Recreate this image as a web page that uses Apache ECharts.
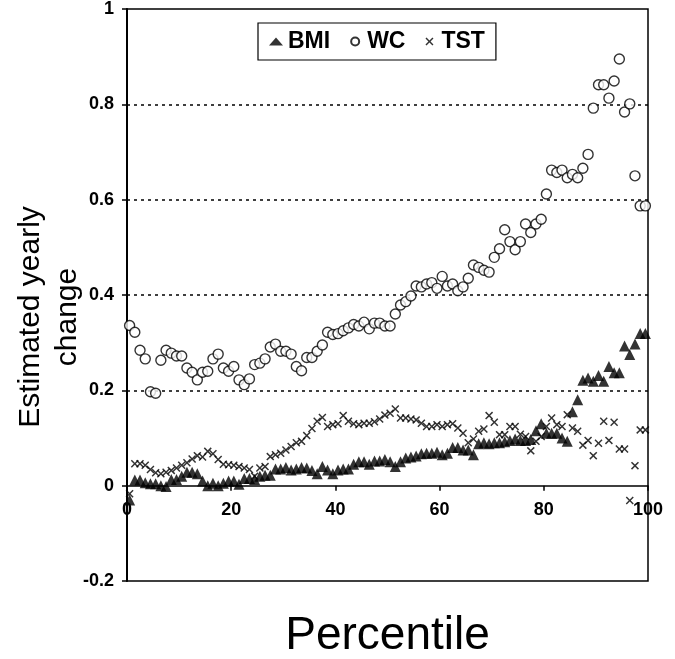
<!DOCTYPE html>
<html>
<head>
<meta charset="utf-8">
<script src="https://cdn.jsdelivr.net/npm/echarts@6/dist/echarts.min.js"></script>
<style>
html,body{margin:0;padding:0;background:#fff;}
#chart{width:675px;height:659px;}
</style>
</head>
<body>
<div id="chart"></div>
<script>
// Percentile positions (bin midpoints)
var pctl = [0.5,1.5,2.5,3.5,4.5,5.5,6.5,7.5,8.5,9.5,
  10.5,11.5,12.5,13.5,14.5,15.5,16.5,17.5,18.5,19.5,
  20.5,21.5,22.5,23.5,24.5,25.5,26.5,27.5,28.5,29.5,
  30.5,31.5,32.5,33.5,34.5,35.5,36.5,37.5,38.5,39.5,
  40.5,41.5,42.5,43.5,44.5,45.5,46.5,47.5,48.5,49.5,
  50.5,51.5,52.5,53.5,54.5,55.5,56.5,57.5,58.5,59.5,
  60.5,61.5,62.5,63.5,64.5,65.5,66.5,67.5,68.5,69.5,
  70.5,71.5,72.5,73.5,74.5,75.5,76.5,77.5,78.5,79.5,
  80.5,81.5,82.5,83.5,84.5,85.5,86.5,87.5,88.5,89.5,
  90.5,91.5,92.5,93.5,94.5,95.5,96.5,97.5,98.5,99.5];

var bmi = [-0.03,0.012,0.012,0.006,0.004,0.004,0.0,-0.002,0.013,0.013,
  0.02,0.028,0.028,0.025,0.01,0.0,0.005,0.0,0.005,0.01,
  0.01,0.003,0.015,0.015,0.013,0.02,0.022,0.022,0.035,0.035,
  0.038,0.033,0.035,0.038,0.037,0.032,0.025,0.04,0.033,0.025,
  0.033,0.035,0.035,0.045,0.05,0.05,0.045,0.052,0.052,0.055,
  0.05,0.04,0.05,0.058,0.06,0.062,0.067,0.068,0.068,0.07,
  0.065,0.068,0.08,0.08,0.075,0.075,0.065,0.088,0.09,0.088,
  0.09,0.09,0.092,0.095,0.098,0.095,0.095,0.097,0.115,0.13,
  0.11,0.11,0.11,0.1,0.093,0.155,0.18,0.221,0.226,0.219,
  0.231,0.219,0.25,0.237,0.237,0.293,0.275,0.297,0.319,0.319];

var wc = [0.336,0.322,0.284,0.266,0.197,0.194,0.263,0.284,0.278,0.272,
  0.272,0.247,0.238,0.222,0.238,0.240,0.266,0.276,0.247,0.240,
  0.250,0.222,0.212,0.224,0.254,0.257,0.266,0.291,0.297,0.282,
  0.282,0.276,0.250,0.241,0.269,0.269,0.282,0.295,0.322,0.317,
  0.319,0.325,0.331,0.338,0.335,0.343,0.329,0.341,0.341,0.335,
  0.335,0.360,0.379,0.386,0.398,0.419,0.417,0.423,0.426,0.414,
  0.439,0.419,0.423,0.409,0.417,0.435,0.463,0.458,0.452,0.448,
  0.479,0.497,0.537,0.512,0.495,0.512,0.549,0.531,0.549,0.559,
  0.612,0.662,0.657,0.662,0.646,0.653,0.646,0.666,0.695,0.792,
  0.841,0.841,0.813,0.849,0.895,0.784,0.801,0.650,0.587,0.587];

var tst = [-0.017,0.046,0.046,0.043,0.034,0.027,0.025,0.028,0.032,0.037,
  0.043,0.048,0.056,0.063,0.06,0.072,0.067,0.055,0.045,0.044,
  0.043,0.04,0.037,0.034,0.02,0.037,0.04,0.061,0.065,0.068,
  0.075,0.082,0.09,0.093,0.105,0.12,0.135,0.143,0.124,0.128,
  0.13,0.147,0.135,0.13,0.128,0.131,0.131,0.134,0.14,0.148,
  0.152,0.161,0.142,0.142,0.14,0.138,0.131,0.124,0.124,0.128,
  0.124,0.128,0.13,0.121,0.11,0.09,0.098,0.114,0.119,0.147,
  0.133,0.107,0.107,0.124,0.124,0.108,0.103,0.073,0.093,0.103,
  0.124,0.142,0.128,0.124,0.149,0.121,0.114,0.085,0.095,0.063,
  0.089,0.135,0.095,0.133,0.077,0.077,-0.031,0.042,0.117,0.117];

var seriesNames = ['BMI', 'WC', 'TST'];
var xTicks = {min: 0, max: 100, interval: 20};
var yTicks = {min: -0.2, max: 1, interval: 0.2};

var CROSS = 'path://M0,1.3L1.3,0L5,3.7L8.7,0L10,1.3L6.3,5L10,8.7L8.7,10L5,6.3L1.3,10L0,8.7L3.7,5Z';
var FONT = 'Liberation Sans, Arial, sans-serif';

function pairs(vals) { return pctl.map(function (p, i) { return [p, vals[i]]; }); }

var chart = echarts.init(document.getElementById('chart'), null, {renderer: 'canvas'});
chart.setOption({
  animation: false,
  backgroundColor: '#fff',
  grid: {
    left: 127, right: 27, top: 9, bottom: 78,
    outerBoundsMode: 'none', containLabel: false,
    show: true, borderColor: '#000', borderWidth: 1.5, backgroundColor: 'transparent'
  },
  legend: {
    left: 258, top: 23,
    padding: [7, 11, 7, 11],
    borderColor: '#000', borderWidth: 1.2,
    backgroundColor: '#fff',
    itemGap: 20, itemWidth: 14, itemHeight: 8,
    textStyle: {fontFamily: FONT, fontSize: 23, fontWeight: 'bold', color: '#000'},
    data: [
      {name: seriesNames[0], icon: 'triangle'},
      {name: seriesNames[1], icon: 'circle'},
      {name: seriesNames[2], icon: CROSS}
    ]
  },
  xAxis: {
    type: 'value', min: xTicks.min, max: xTicks.max, interval: xTicks.interval,
    position: 'bottom', offset: -95.3,
    name: 'Percentile', nameLocation: 'middle', nameGap: 128, nameMoveOverlap: false,
    nameTextStyle: {fontFamily: FONT, fontSize: 46, color: '#000'},
    axisLine: {onZero: false, lineStyle: {color: '#000', width: 1.5}},
    axisTick: {length: 5, lineStyle: {color: '#000', width: 1.5}},
    axisLabel: {fontFamily: FONT, fontSize: 18, fontWeight: 'bold', color: '#000', margin: 15},
    splitLine: {show: false}
  },
  yAxis: {
    type: 'value', min: yTicks.min, max: yTicks.max, interval: yTicks.interval,
    name: 'Estimated yearly\nchange', nameLocation: 'middle', nameGap: 41, nameRotate: 90,
    nameMoveOverlap: false,
    nameTextStyle: {fontFamily: FONT, fontSize: 30, color: '#000', lineHeight: 37, align: 'center', padding: [0, 44, 0, 0]},
    axisLine: {show: true, lineStyle: {color: '#000', width: 2}},
    axisTick: {show: true, length: 5, lineStyle: {color: '#000', width: 1.5}},
    axisLabel: {fontFamily: FONT, fontSize: 18, fontWeight: 'bold', color: '#000', margin: 13},
    splitLine: {
      show: true,
      lineStyle: {
        color: ['rgba(0,0,0,0)', 'rgba(0,0,0,0)', '#000', '#000', '#000', '#000', 'rgba(0,0,0,0)'],
        width: 1.5, type: [3, 4]
      }
    }
  },
  series: [
    {
      name: seriesNames[0], type: 'scatter', data: pairs(bmi),
      symbol: 'triangle', symbolSize: 11,
      itemStyle: {color: '#000'}
    },
    {
      name: seriesNames[1], type: 'scatter', data: pairs(wc),
      symbol: 'circle', symbolSize: 10,
      itemStyle: {color: '#fff', borderColor: '#000', borderWidth: 1.4}
    },
    {
      name: seriesNames[2], type: 'scatter', data: pairs(tst),
      symbol: CROSS, symbolSize: 8,
      itemStyle: {color: '#000'}
    }
  ]
});
</script>
</body>
</html>
